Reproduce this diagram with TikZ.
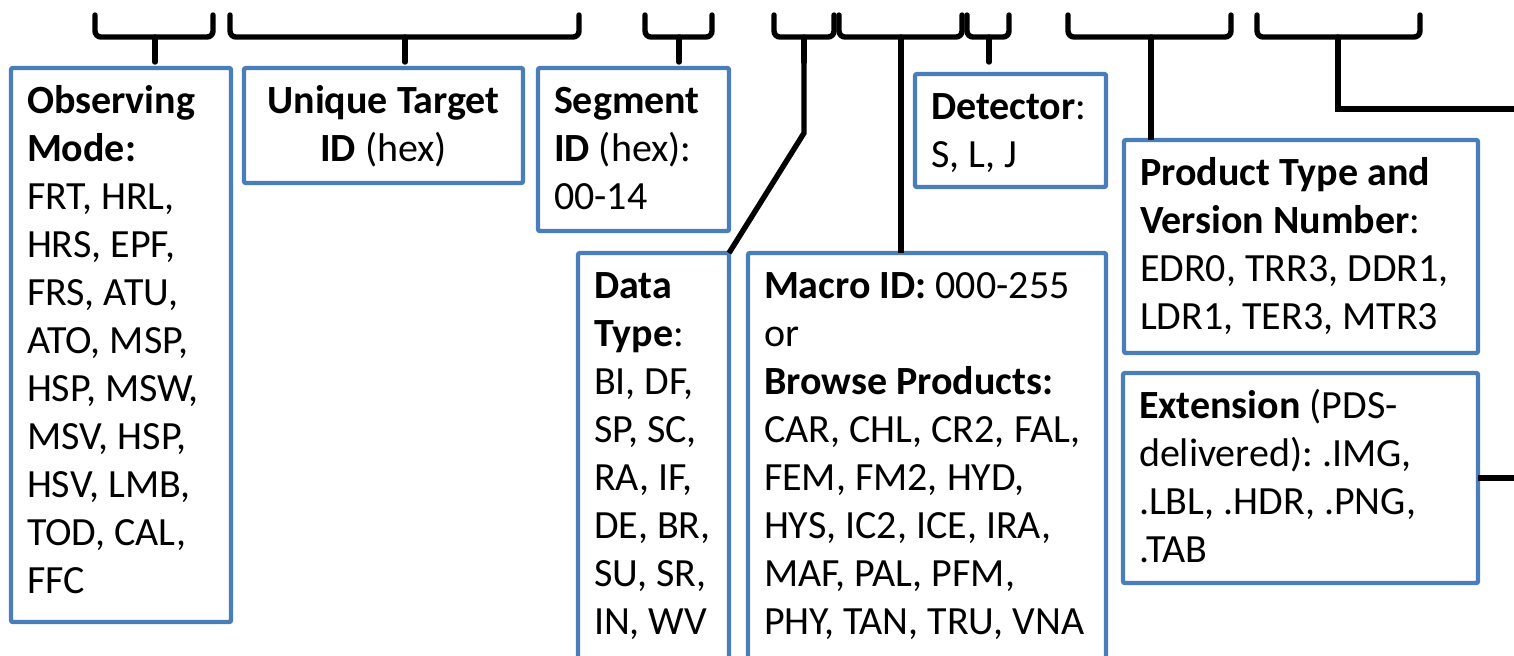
\documentclass[tikz,border=0pt]{standalone}
\usepackage{fontspec}
\setmainfont{Carlito}
\usetikzlibrary{positioning,calc}
\definecolor{BoxBlue}{RGB}{74,126,187}

\begin{document}
\begin{tikzpicture}[x=0.5pt, y=-0.5pt, font=\fontsize{20}{24}\selectfont\frenchspacing,
  infobox/.style={draw=BoxBlue, line width=2.2pt, rounded corners=1pt, fill=white, anchor=north west, outer sep=0pt, inner xsep=8pt, inner ysep=0pt, text height=22.5pt, align=flush left},
  bracket/.style={line width=2.7pt, rounded corners=3pt, line cap=round},
  link/.style={line width=2.7pt}]
  \useasboundingbox (0,0) rectangle (1514,655);

  \foreach \bl/\bm/\br/\bn in {95/155/213/obs, 230/405/579/uniq, 645/679/712/seg, 774/804/834/data, 839/901/962/macro, 967/989/1009/det, 1068/1151/1231/prod, 1257/1338/1420/right}{
    \draw[bracket] (\bl,15) -- (\bl,37) -- (\br,37) -- (\br,15);
    \draw[bracket] (\bm,37) -- (\bm,62) coordinate (tip\bn);
  }

  \node[infobox, text width=94pt, text depth=254.5pt] (obs) at (11,68) {\textbf{Observing}\\\textbf{Mode:}\\FRT, HRL,\\HRS, EPF,\\FRS, ATU,\\ATO, MSP,\\HSP, MSW,\\MSV, HSP,\\HSV, LMB,\\TOD, CAL,\\FFC};
  \node[infobox, align=flush center, text width=123.5pt, text depth=35pt] (uniq) at (244,68) {\textbf{Unique Target}\\\textbf{ID} (hex)};
  \node[infobox, text width=79.5pt, text depth=59pt] (seg) at (538,68) {\textbf{Segment}\\\textbf{ID} (hex):\\00-14};
  \node[infobox, text width=59.5pt, text depth=183.5pt] (data) at (578,253) {\textbf{Data}\\\textbf{Type}:\\BI, DF,\\SP, SC,\\RA, IF,\\DE, BR,\\SU, SR,\\IN, WV};
  \node[infobox, text width=163pt, text depth=183.5pt] (macro) at (748,253) {\textbf{Macro ID:} 000-255\\or\\\textbf{Browse Products:}\\CAR, CHL, CR2, FAL,\\FEM, FM2, HYD,\\HYS, IC2, ICE, IRA,\\MAF, PAL, PFM,\\PHY, TAN, TRU, VNA};
  \node[infobox, text width=79.5pt, text depth=34pt] (det) at (915,74) {\textbf{Detector}:\\S, L, J};
  \node[infobox, text width=161pt, text depth=84pt] (prod) at (1124,140) {\textbf{Product Type and}\\\textbf{Version Number}:\\EDR0, TRR3, DDR1,\\LDR1, TER3, MTR3};
  \node[infobox, text width=161.5pt, text depth=82.5pt] (ext) at (1123,373) {\textbf{Extension} (PDS-\\delivered): .IMG,\\.LBL, .HDR, .PNG,\\.TAB};

  \coordinate (databend) at (804,133);
  \coordinate (rightrim) at (1514,109);
  \coordinate (extrim) at (1514,478);
  \draw[link] (tipdata) -- (databend) -- (data.north east);
  \draw[link] (tipmacro) -- (tipmacro |- macro.north);
  \draw[link] (tipprod) -- (tipprod |- prod.north);
  \draw[link] (tipright) |- (rightrim);
  \draw[link] (ext.east) -- (extrim);
\end{tikzpicture}
\end{document}
